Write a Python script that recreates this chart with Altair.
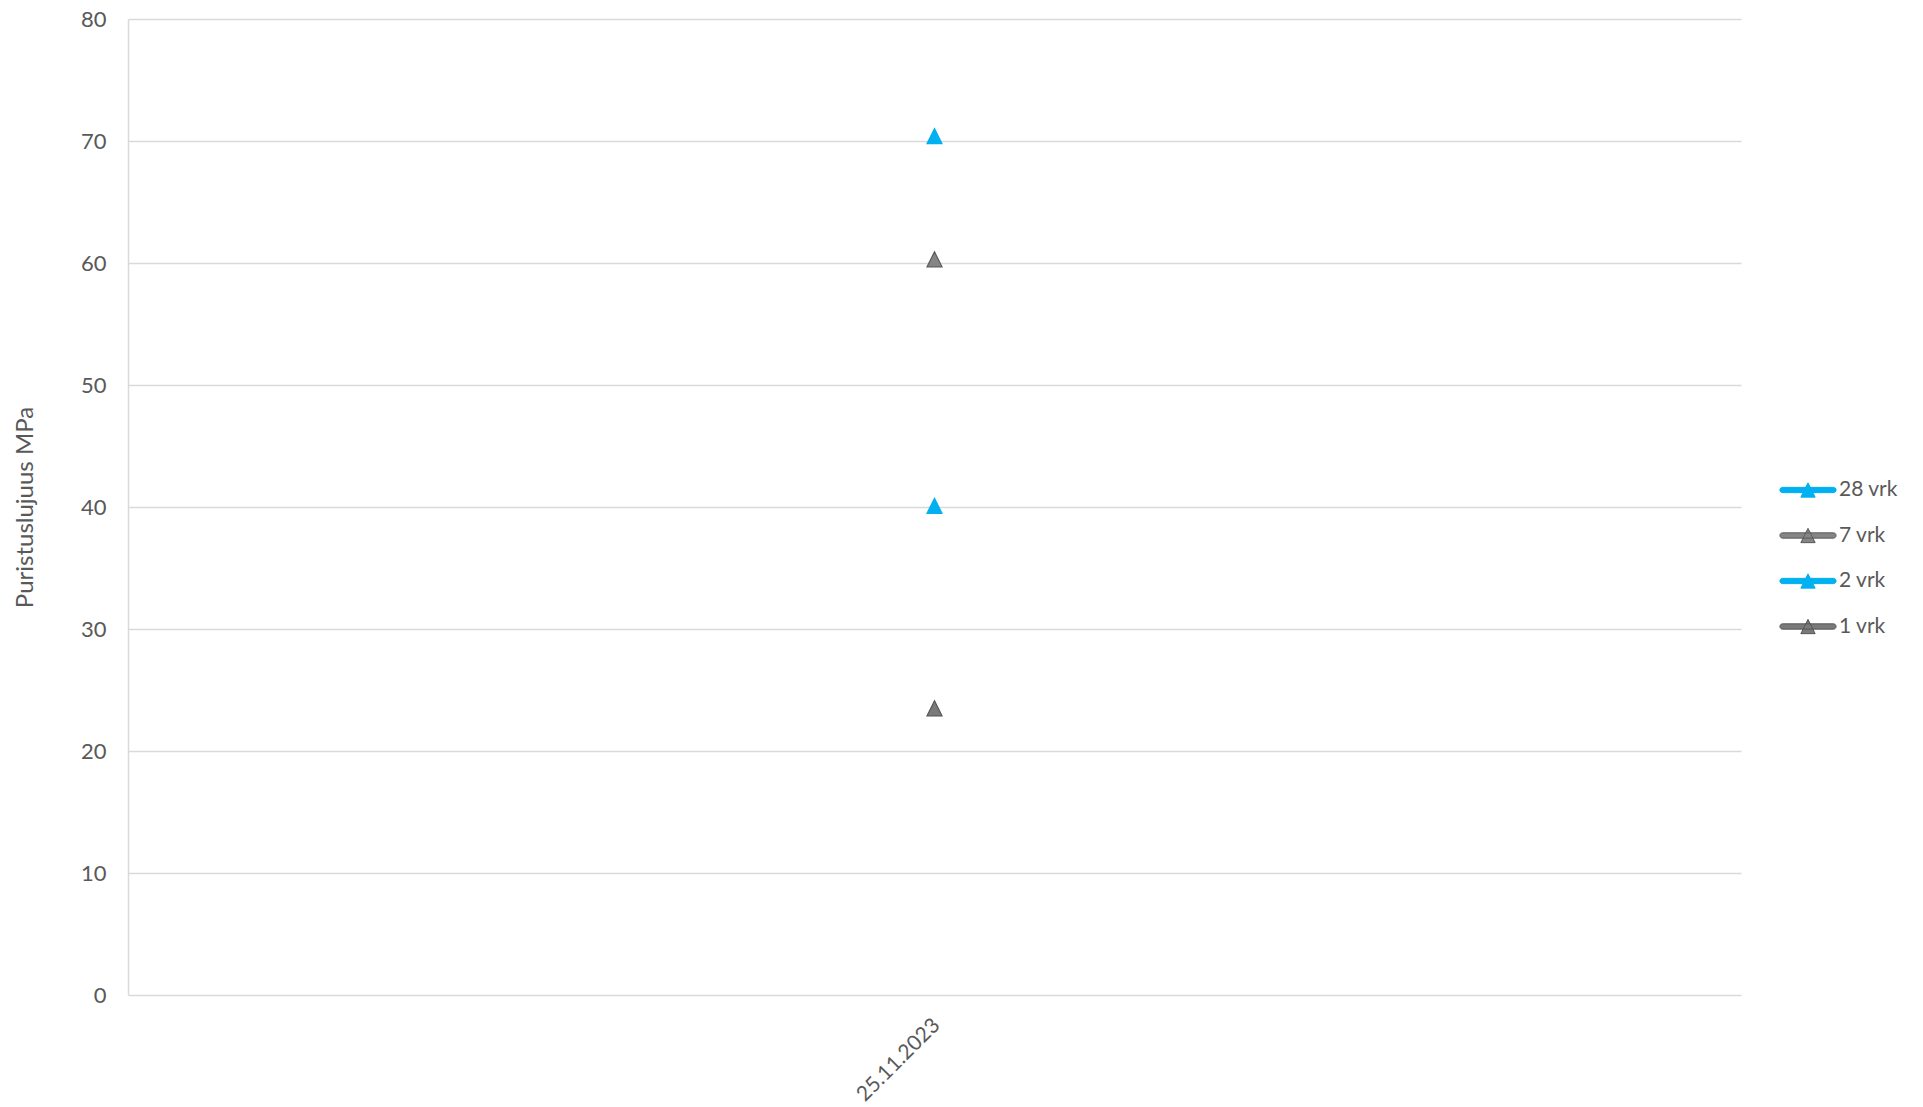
import altair as alt
import pandas as pd

# --- data ---
series = ["28 vrk", "7 vrk", "2 vrk", "1 vrk"]
dates = ["25.11.2023", "25.11.2023", "25.11.2023", "25.11.2023"]
values = [70.4, 60.3, 40.1, 23.5]
fill_colors = ["#00B0F0", "#858585", "#00B0F0", "#7A7A7A"]
stroke_colors = ["#00B0F0", "#5A5A5A", "#00B0F0", "#555555"]
y_ticks = [0, 10, 20, 30, 40, 50, 60, 70, 80]

df = pd.DataFrame({"Päivä": dates, "Sarja": series, "MPa": values})

TEXT = "#595959"
GRID = "#D9D9D9"
FONT = "Lato"

tri_path = "M0,-1L1,1H-1Z"
legend_path = "M-0.96,-0.1H0.96A0.1,0.1 0 0 1 0.96,0.1H-0.96A0.1,0.1 0 0 1 -0.96,-0.1Z M0,-0.27L0.27,0.27H-0.27Z"

legend_opts = dict(
    title=None,
    orient="none",
    legendX=1653,
    legendY=444,
    symbolType=legend_path,
    symbolSize=2809,
    symbolStrokeWidth=1,
    labelFontSize=21,
    labelFont=FONT,
    labelColor=TEXT,
    labelOffset=4,
    rowPadding=8.5,
    padding=0,
)

chart = (
    alt.Chart(df)
    .mark_point(shape=tri_path, size=225, filled=True, strokeWidth=1.2, opacity=1)
    .encode(
        x=alt.X(
            "Päivä:N",
            title=None,
            scale=alt.Scale(paddingInner=0, paddingOuter=0),
            axis=alt.Axis(
                labelAngle=-45,
                labelFontSize=21,
                labelColor=TEXT,
                labelFont=FONT,
                labelPadding=19,
                labelOffset=-6,
                ticks=False,
                domain=False,
                grid=False,
                gridOpacity=0,
            ),
        ),
        y=alt.Y(
            "MPa:Q",
            title="Puristuslujuus MPa",
            scale=alt.Scale(domain=[0, 80], nice=False),
            axis=alt.Axis(
                values=y_ticks,
                labelFontSize=22,
                labelColor=TEXT,
                labelFont=FONT,
                labelPadding=22,
                ticks=False,
                domain=True,
                domainColor=GRID,
                domainWidth=1.5,
                gridColor=GRID,
                gridWidth=1.5,
                titleFontSize=24,
                titleFont=FONT,
                titleColor=TEXT,
                titleFontWeight="normal",
                titlePadding=43,
            ),
        ),
        fill=alt.Fill(
            "Sarja:N",
            scale=alt.Scale(domain=series, range=fill_colors),
            legend=alt.Legend(**legend_opts),
        ),
        stroke=alt.Stroke(
            "Sarja:N",
            scale=alt.Scale(domain=series, range=stroke_colors),
            legend=alt.Legend(**legend_opts),
        ),
    )
    .properties(
        width=1613,
        height=976,
        background="white",
        autosize=alt.AutoSizeParams(type="none"),
        padding={"left": 120, "top": 11, "right": 170, "bottom": 112},
    )
    .configure_view(stroke=None, strokeWidth=0, strokeOpacity=0)
)

chart.save("out.html", embed_options={"renderer": "svg", "actions": False})
